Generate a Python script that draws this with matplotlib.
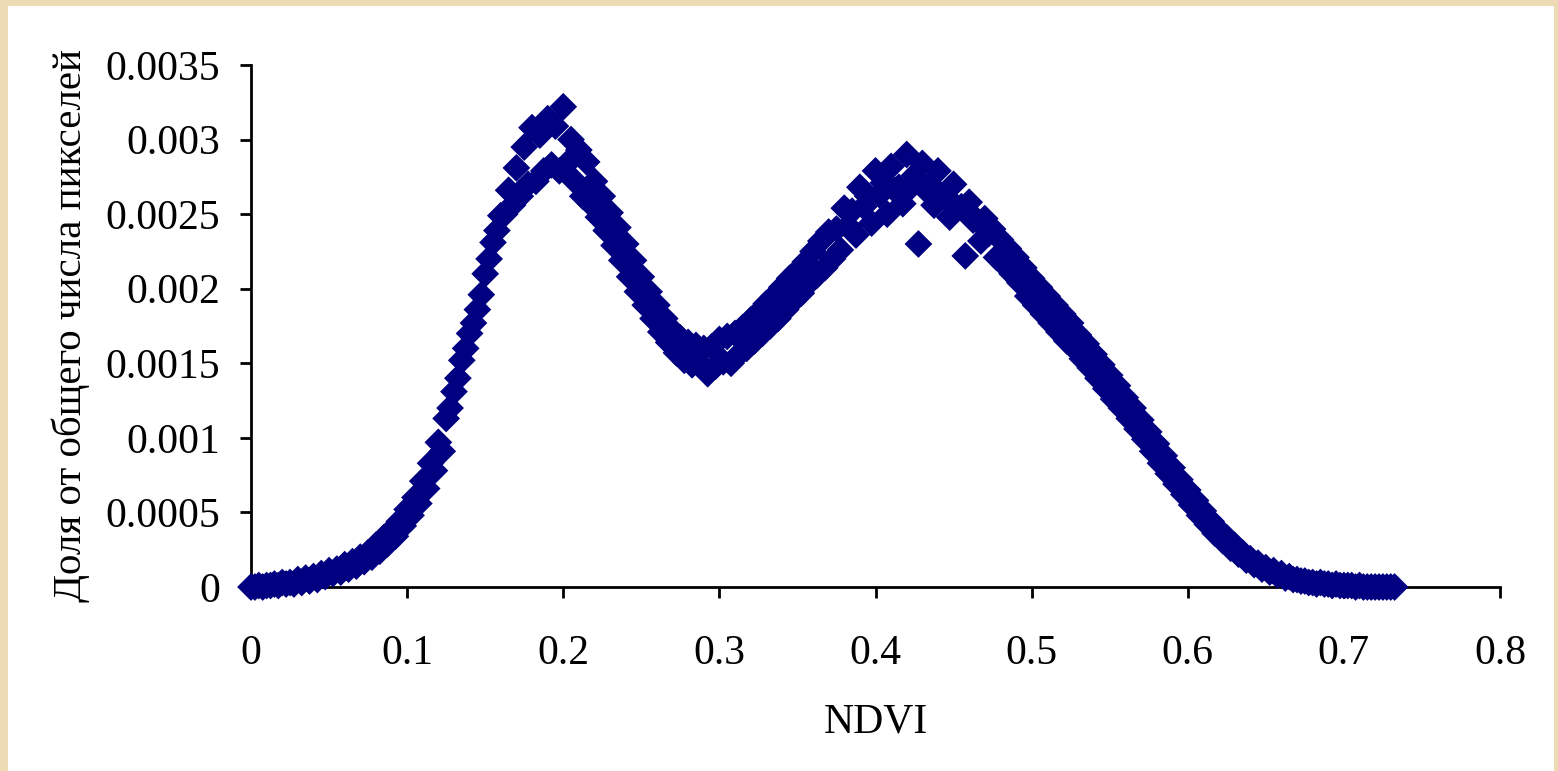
import numpy as np
import matplotlib.pyplot as plt
from matplotlib.patches import Rectangle

# доля пикселей по значениям NDVI (две выборки бинов, смещённые на полшага)
share_a = [
    0.00000, 0.00001, 0.00001, 0.00002, 0.00003, 0.00003, 0.00005, 0.00006, 0.00007, 0.00009,
    0.00011, 0.00012, 0.00015, 0.00017, 0.00020, 0.00023, 0.00028, 0.00033, 0.00038, 0.00044,
    0.00052, 0.00060, 0.00071, 0.00083, 0.00097, 0.00113, 0.00131, 0.00152, 0.00170, 0.00186,
    0.00210, 0.00231, 0.00249, 0.00266, 0.00281, 0.00295, 0.00308, 0.00303, 0.00314, 0.00309,
    0.00322, 0.00300, 0.00293, 0.00285, 0.00272, 0.00262, 0.00251, 0.00241, 0.00230, 0.00219,
    0.00208, 0.00198, 0.00189, 0.00180, 0.00172, 0.00167, 0.00164, 0.00162, 0.00160, 0.00161,
    0.00166, 0.00168, 0.00170, 0.00174, 0.00179, 0.00184, 0.00190, 0.00195, 0.00201, 0.00207,
    0.00212, 0.00218, 0.00225, 0.00232, 0.00238, 0.00240, 0.00254, 0.00252, 0.00268, 0.00262,
    0.00279, 0.00271, 0.00282, 0.00268, 0.00290, 0.00276, 0.00284, 0.00270, 0.00279, 0.00262,
    0.00270, 0.00255, 0.00258, 0.00246, 0.00247, 0.00240, 0.00233, 0.00227, 0.00221, 0.00214,
    0.00207, 0.00201, 0.00195, 0.00189, 0.00183, 0.00177, 0.00169, 0.00163, 0.00156, 0.00149,
    0.00142, 0.00135, 0.00127, 0.00120, 0.00112, 0.00104, 0.00096, 0.00088, 0.00080, 0.00072,
    0.00065, 0.00058, 0.00051, 0.00044, 0.00038, 0.00033, 0.00028, 0.00023, 0.00019, 0.00016,
    0.00013, 0.00011, 0.00009, 0.00007, 0.00005, 0.00004, 0.00003, 0.00003, 0.00002, 0.00002,
    0.00001, 0.00001, 0.00001, 0.00000, 0.00000, 0.00000, 0.00000,
]
share_b = [
    0.00000, 0.00000, 0.00001, 0.00001, 0.00002, 0.00002, 0.00003, 0.00004, 0.00005, 0.00007,
    0.00009, 0.00010, 0.00012, 0.00014, 0.00017, 0.00020, 0.00024, 0.00029, 0.00034, 0.00041,
    0.00048, 0.00056, 0.00066, 0.00078, 0.00091, 0.00120, 0.00140, 0.00160, 0.00177, 0.00196,
    0.00220, 0.00239, 0.00250, 0.00256, 0.00262, 0.00270, 0.00272, 0.00279, 0.00283, 0.00279,
    0.00284, 0.00272, 0.00262, 0.00257, 0.00248, 0.00239, 0.00229, 0.00219, 0.00208, 0.00198,
    0.00189, 0.00180, 0.00171, 0.00164, 0.00157, 0.00152, 0.00149, 0.00150, 0.00143, 0.00148,
    0.00151, 0.00150, 0.00156, 0.00160, 0.00165, 0.00170, 0.00175, 0.00180, 0.00186, 0.00192,
    0.00197, 0.00204, 0.00209, 0.00214, 0.00220, 0.00226, 0.00242, 0.00236, 0.00255, 0.00244,
    0.00263, 0.00250, 0.00266, 0.00257, 0.00268, 0.00230, 0.00266, 0.00256, 0.00262, 0.00248,
    0.00254, 0.00222, 0.00246, 0.00232, 0.00237, 0.00221, 0.00216, 0.00210, 0.00204, 0.00195,
    0.00189, 0.00183, 0.00177, 0.00171, 0.00165, 0.00160, 0.00153, 0.00147, 0.00140, 0.00133,
    0.00126, 0.00120, 0.00113, 0.00106, 0.00099, 0.00091, 0.00083, 0.00076, 0.00069, 0.00062,
    0.00055, 0.00048, 0.00042, 0.00036, 0.00031, 0.00026, 0.00022, 0.00018, 0.00015, 0.00012,
    0.00010, 0.00008, 0.00006, 0.00005, 0.00004, 0.00003, 0.00002, 0.00002, 0.00001, 0.00001,
    0.00001, 0.00000, 0.00000, 0.00000, 0.00000, 0.00000, 0.00000,
]
BIN = 0.005
ndvi_a = BIN * np.arange(len(share_a))
ndvi_b = BIN * np.arange(len(share_b)) + BIN / 2

x_ticks = [0, 0.1, 0.2, 0.3, 0.4, 0.5, 0.6, 0.7, 0.8]
y_ticks = [0, 0.0005, 0.001, 0.0015, 0.002, 0.0025, 0.003, 0.0035]
x_ticklabels = ["0", "0.1", "0.2", "0.3", "0.4", "0.5", "0.6", "0.7", "0.8"]
y_ticklabels = ["0", "0.0005", "0.001", "0.0015", "0.002", "0.0025", "0.003", "0.0035"]

plt.rcParams["font.family"] = ["Liberation Serif", "DejaVu Serif"]

W, H = 1558, 771
fig = plt.figure(figsize=(W / 100, H / 100), dpi=100, facecolor="#eddcb3")
# белая подложка слайда
fig.patches.append(Rectangle((8 / W, 0), (1554 - 8) / W, 1 - 6 / H,
                             transform=fig.transFigure, facecolor="white",
                             edgecolor="none", zorder=-10))

ax = fig.add_axes([251 / W, 1 - 587 / H, (1500 - 251) / W, (587 - 65) / H])
ax.set_facecolor("none")

MARKER = dict(marker="D", s=200, color="#000080", edgecolors="none",
              clip_on=False, zorder=3)
ax.scatter(ndvi_a, share_a, **MARKER)
ax.scatter(ndvi_b, share_b, **MARKER)

ax.set_xlim(0, 0.8)
ax.set_ylim(0, 0.0035)
ax.set_xticks(x_ticks)
ax.set_xticklabels(x_ticklabels)
ax.set_yticks(y_ticks)
ax.set_yticklabels(y_ticklabels)

for side in ("top", "right"):
    ax.spines[side].set_visible(False)
for side in ("left", "bottom"):
    ax.spines[side].set_linewidth(2)
    ax.spines[side].set_zorder(2)

ax.tick_params(axis="both", direction="out", length=8, width=2,
               labelsize=30, colors="black")
ax.tick_params(axis="x", pad=26)
ax.tick_params(axis="y", pad=14)

ax.set_xlabel("NDVI", fontsize=30, labelpad=22)
ax.set_ylabel("Доля от общего числа пикселей", fontsize=29.5, labelpad=11)

fig.savefig("out.png", dpi=100, facecolor=fig.get_facecolor())
